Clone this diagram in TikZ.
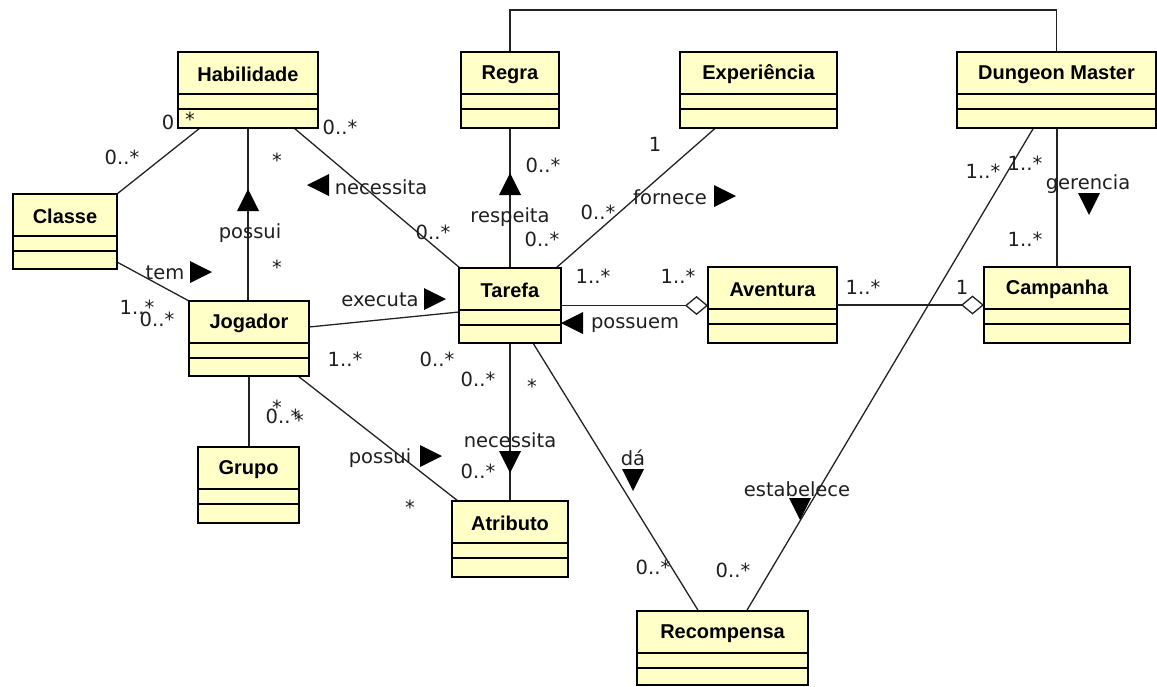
\documentclass[tikz,border=0pt]{standalone}
\usepackage{fontspec}
\usetikzlibrary{arrows.meta}
\newfontfamily\labfont{DejaVu Sans}
\newfontfamily\titfont{Liberation Sans}
\definecolor{classfill}{RGB}{255,255,200}
\definecolor{linegray}{RGB}{35,35,35}

\tikzset{
  classbox/.style={draw=black, line width=2.6pt, fill=classfill, inner sep=0pt, outer sep=0pt, anchor=north west},
  classtitle/.style={font=\titfont\bfseries\fontsize{20}{24}\selectfont, inner sep=0pt},
  lab/.style={font=\labfont\fontsize{19.5}{22}\selectfont, text=black!88, inner sep=0pt},
  assoc/.style={draw=linegray, line width=1.3pt},
  aggr/.style={assoc, -{Diamond[open, fill=white, length=23pt, width=19pt, line width=1.3pt]}},
  triR/.pic={\fill (-11,-11) -- (11,0) -- (-11,11) -- cycle;},
  triL/.pic={\fill (11,-11) -- (-11,0) -- (11,11) -- cycle;},
  triU/.pic={\fill (-11,11) -- (0,-11) -- (11,11) -- cycle;},
  triD/.pic={\fill (-11,-11) -- (0,11) -- (11,-11) -- cycle;},
}

% class box: name, left, top, width, height, title
\newcommand\umlclass[6]{%
  \node[classbox, minimum width=#4pt, minimum height=#5pt] (#1) at (#2,#3) {};
  \node[classtitle] at ([yshift=-22.5pt]#1.north) {#6};
  \draw[line width=1.1pt] ([yshift=-42pt]#1.north west) -- ([yshift=-42pt]#1.north east);
  \draw[line width=1.1pt] ([yshift=-57pt]#1.north west) -- ([yshift=-57pt]#1.north east);
}

\begin{document}
\begin{tikzpicture}[x=1pt, y=-1pt]
\useasboundingbox[fill=white] (0,0) rectangle (1157,686);

% classes (placed first so the connectors can refer to them)
\umlclass{hab}{178}{52}{140}{76}{Habilidade}
\umlclass{cla}{13}{194}{104}{75}{Classe}
\umlclass{jog}{189}{301}{120}{75}{Jogador}
\umlclass{gru}{198}{447}{101}{76}{Grupo}
\umlclass{reg}{461}{52}{98}{76}{Regra}
\umlclass{exp}{680}{52}{157}{76}{Experiência}
\umlclass{dm}{957}{52}{199}{76}{Dungeon Master}
\umlclass{tar}{459}{268}{102}{75}{Tarefa}
\umlclass{av}{708}{267}{129}{76}{Aventura}
\umlclass{cam}{984}{267}{146}{76}{Campanha}
\umlclass{atr}{452}{501}{116}{76}{Atributo}
\umlclass{rec}{637}{611}{171}{74}{Recompensa}

% associations
\draw[assoc] (cla.north east) -- ([xshift=-48pt]hab.south);
\draw[assoc] ([xshift=46pt]hab.south) -- ([xshift=-50pt]tar.north);
\draw[assoc] (hab.south) -- (hab.south |- jog.north);
\draw[assoc] ([yshift=7pt]cla.south east) -- (jog.north west);
\draw[assoc] ([yshift=11.5pt]jog.east) -- ([yshift=-6.5pt]tar.west);
\draw[assoc] ([xshift=-11pt]jog.south east) -- ([xshift=6pt]atr.north west);
\draw[assoc] (jog.south) -- (jog.south |- gru.north);
\draw[assoc] (tar.north) -- (reg.south);
\draw[assoc] ([xshift=-5pt]tar.north east) -- ([xshift=-43pt]exp.south);
\draw[assoc] (tar.south) -- (atr.north);
\draw[assoc] ([xshift=23pt]tar.south) -- ([xshift=-24pt]rec.north);
\draw[assoc] ([xshift=-23pt]dm.south) -- ([xshift=24pt]rec.north);
\draw[assoc] ([xshift=0.5pt]dm.south) -- ([xshift=0.5pt]dm.south |- cam.north);
\draw[assoc] (reg.north) |- ([yshift=42pt]dm.north) -- (dm.north);
\draw[aggr] (tar.east) -- (tar.east -| av.west);
\draw[aggr] (av.east) -- (av.east -| cam.west);

% redraw class boxes over the connector ends
\umlclass{hab}{178}{52}{140}{76}{Habilidade}
\umlclass{cla}{13}{194}{104}{75}{Classe}
\umlclass{jog}{189}{301}{120}{75}{Jogador}
\umlclass{gru}{198}{447}{101}{76}{Grupo}
\umlclass{reg}{461}{52}{98}{76}{Regra}
\umlclass{exp}{680}{52}{157}{76}{Experiência}
\umlclass{dm}{957}{52}{199}{76}{Dungeon Master}
\umlclass{tar}{459}{268}{102}{75}{Tarefa}
\umlclass{atr}{452}{501}{116}{76}{Atributo}
\umlclass{rec}{637}{611}{171}{74}{Recompensa}

% Habilidade ends
\node[lab] (m1) at (168,122) {0};
\node[lab] (m2) at (190,119) {*};
\node[lab] (m3) at (122,157) {0..*};
\node[lab] (m4) at (340,127) {0..*};
\node[lab] (m5) at (277,160) {*};
\node[lab] (m6) at (277,267) {*};
\pic at (248,200) {triU};
\node[lab] (l1) at (250,233) {possui};
\pic at (318,185) {triL};
\node[lab] (l2) at (381,187) {necessita};
\node[lab] (m7) at (433,232) {0..*};

% Classe - Jogador
\node[lab] (l3) at (165,273) {tem};
\pic at (201,272) {triR};
\node[lab] (m8) at (137,307) {1..*};
\node[lab] (m9) at (157,319) {0..*};

% Jogador - Grupo
\node[lab] (m10) at (277,407) {*};
\node[lab] (m11) at (283,416) {0..*};
\node[lab] (m12) at (299,420) {*};

% Jogador - Tarefa, Jogador - Atributo
\node[lab] (l4) at (380,300) {executa};
\pic at (435,299) {triR};
\node[lab] (m13) at (345,359) {1..*};
\node[lab] (m14) at (437,359) {0..*};
\node[lab] (l5) at (380,458) {possui};
\pic at (431,456) {triR};
\node[lab] (m15) at (410,507) {*};

% Tarefa - Regra
\node[lab] (m16) at (543,165) {0..*};
\pic at (510,184) {triU};
\node[lab] (l6) at (510,217) {respeita};
\node[lab] (m17) at (542,239) {0..*};

% Tarefa - Experiencia
\node[lab] (m18) at (655,144) {1};
\node[lab] (l7) at (670,197) {fornece};
\pic at (725,196) {triR};
\node[lab] (m19) at (598,212) {0..*};

% Tarefa - Aventura - Campanha
\node[lab] (m20) at (593,276) {1..*};
\node[lab] (m21) at (678,276) {1..*};
\pic at (572,323) {triL};
\node[lab] (l8) at (635,325) {possuem};
\node[lab] (m22) at (863,287) {1..*};
\node[lab] (m23) at (962,287) {1};

% Tarefa - Atributo
\node[lab] (m24) at (478,379) {0..*};
\node[lab] (l9) at (510,440) {necessita};
\pic at (510,462) {triD};
\node[lab] (m25) at (478,471) {0..*};

% Tarefa - Recompensa
\node[lab] (m26) at (532,386) {*};
\node[lab] (l10) at (633,458) {dá};
\pic at (633,480) {triD};
\node[lab] (m27) at (653,567) {0..*};

% Dungeon Master links
\node[lab] (m28) at (983,171) {1..*};
\node[lab] (m29) at (1025,163) {1..*};
\node[lab] (l11) at (1088,184) {gerencia};
\pic at (1089,204) {triD};
\node[lab] (m30) at (1025,239) {1..*};
\node[lab] (l12) at (797,489) {estabelece};
\pic at (800,509) {triD};
\node[lab] (m31) at (733,570) {0..*};
\end{tikzpicture}
\end{document}
